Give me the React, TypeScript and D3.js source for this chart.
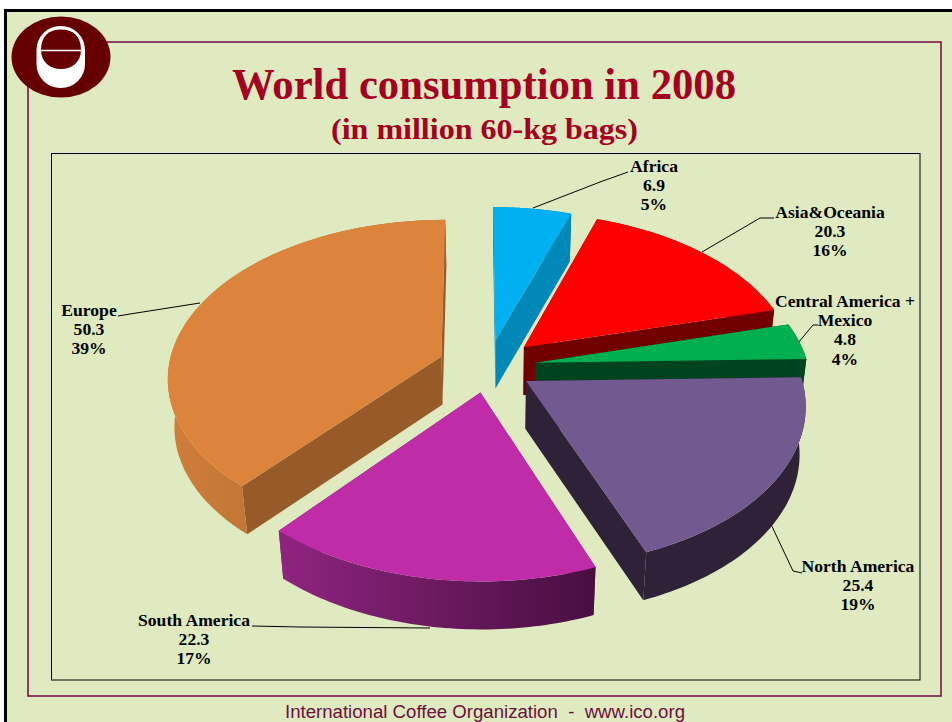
import React from "react";
import * as d3 from "d3";

const categories = ["Africa", "Asia&Oceania", "Central America + Mexico", "North America", "South America", "Europe"];
const values = [6.9, 20.3, 4.8, 25.4, 22.3, 50.3];
const percents = ["5%", "16%", "4%", "19%", "17%", "39%"];
const explodeBy = [47, 50, 48, 45, 45, 50];
const topColors = ["#00B0F0", "#FF0000", "#00B050", "#725990", "#C02CA8", "#DD843C"];
const sideColors = ["#0088B8", "#700000", "#00431F", "#2E2138", "#8A2079", "#975B2A"];
const wallFrom = ["#0088B8", "#700000", "#00431F", "#2E2138", "#8F2480", "#D07E3A"];
const wallTo = ["#0088B8", "#700000", "#00431F", "#2E2138", "#470F40", "#A0632A"];
const paintOrder = [0, 1, 2, 5, 3, 4];

const W = 952, H = 722;
const CX = 488, X0 = 475, CY = 366.5, R = 273, TILT = 0.575, DEPTH = 2100, THICK = 48;

function project(a: number, r: number, off: number, mid: number, z: number): [number, number] {
  const X = Math.sin(a) * r + Math.sin(mid) * off;
  const Y = -Math.cos(a) * r - Math.cos(mid) * off;
  const s = 1 / (1 - Y / DEPTH);
  const px = X0 + (CX - X0 + X) * s;
  return [px - (px - 500) * 0.02 * (z / THICK), CY + Y * TILT * s + z];
}

const line = d3.line();
const pieGen = d3.pie<number>().sort(null).startAngle(0).endAngle(2 * Math.PI);

type LabelSpec = { lines: string[]; x: number; y: number };
const labelLayout: LabelSpec[] = [
  { lines: ["Africa", "6.9", "5%"], x: 654, y: 172 },
  { lines: ["Asia&Oceania", "20.3", "16%"], x: 830, y: 218 },
  { lines: ["Central America +", "Mexico", "4.8", "4%"], x: 845, y: 307 },
  { lines: ["North America", "25.4", "19%"], x: 858, y: 572 },
  { lines: ["South America", "22.3", "17%"], x: 194, y: 626 },
  { lines: ["Europe", "50.3", "39%"], x: 89, y: 316 },
];
const leaders = [
  [[533, 208], [600, 182], [628, 172]],
  [[702, 252], [760, 218], [774, 218]],
  [[798, 343], [813, 325], [818, 325]],
  [[769, 520], [793, 571], [802, 573]],
  [[430, 628], [300, 627], [252, 626]],
  [[200, 303], [130, 314], [118, 316]],
] as [number, number][][];

function Slice({ d, i }: { d: d3.PieArcDatum<number>; i: number }) {
  const mid = (d.startAngle + d.endAngle) / 2;
  const off = explodeBy[i];
  const n = 60;
  const angs = d3.range(n + 1).map((k) => d.startAngle + ((d.endAngle - d.startAngle) * k) / n);
  const top = angs.map((a) => project(a, R, off, mid, 0));
  const bot = angs.map((a) => project(a, R, off, mid, THICK));
  const at = project(0, 0, off, mid, 0);
  const ab = project(0, 0, off, mid, THICK);
  const cutStart = [at, ab, bot[0], top[0]] as [number, number][];
  const cutEnd = [at, ab, bot[n], top[n]] as [number, number][];
  const wall = [...top, ...bot.slice().reverse()];
  const gid = `wall${i}`;
  const xs = top.map((p) => p[0]);
  return (
    <g>
      <defs>
        <linearGradient id={gid} gradientUnits="userSpaceOnUse" x1={d3.min(xs)} x2={d3.max(xs)} y1={0} y2={0}>
          <stop offset="0" stopColor={wallFrom[i]} />
          <stop offset="1" stopColor={wallTo[i]} />
        </linearGradient>
      </defs>
      <path d={line(cutStart)! + "Z"} fill={sideColors[i]} />
      <path d={line(cutEnd)! + "Z"} fill={sideColors[i]} />
      <path d={line(wall)! + "Z"} fill={`url(#${gid})`} />
      <path d={line([at, ...top])! + "Z"} fill={topColors[i]} />
    </g>
  );
}

export default function App() {
  const arcs = pieGen(values);
  return (
    <svg width={W} height={H} viewBox={`0 0 ${W} ${H}`} style={{ position: "absolute", left: 0, top: 0, display: "block" }}>
      <rect x={0} y={0} width={W} height={H} fill="#FFFFFF" />
      <rect x={5.5} y={10.5} width={W + 20} height={H + 20} fill="#DFEAC0" stroke="#000000" strokeWidth={3} />
      <rect x={28} y={42} width={913} height={654} fill="none" stroke="#7A1446" strokeWidth={1.6} />
      <ellipse cx={61} cy={57} rx={49.5} ry={40.5} fill="#660000" />
      <rect x={36.5} y={26} width={48.5} height={62} rx={24} ry={24} fill="#FFFFFF" />
      <path d="M41 50 C41 36 49 29.5 61 29.5 C73 29.5 81 36 81 50 C81 62 72 69 61 69 C50 69 41 62 41 50 Z" fill="#660000" />
      <line x1={41} x2={81} y1={50.5} y2={50.5} stroke="#FFFFFF" strokeWidth={1.6} />
      <text x={484} y={99} textAnchor="middle" fontFamily="Liberation Serif" fontWeight="bold" fontSize={44} fill="#A50021" textLength={504} lengthAdjust="spacingAndGlyphs">World consumption in 2008</text>
      <text x={484.5} y={139} textAnchor="middle" fontFamily="Liberation Serif" fontWeight="bold" fontSize={30} fill="#A50021" textLength={307} lengthAdjust="spacingAndGlyphs">(in million 60-kg bags)</text>
      <rect x={51.5} y={153.5} width={868.5} height={526.5} fill="none" stroke="#000000" strokeWidth={1} />
      {leaders.map((p, i) => <path key={i} d={line(p)!} fill="none" stroke="#000000" strokeWidth={1} />)}
      {paintOrder.map((i) => <Slice key={i} d={arcs[i]} i={i} />)}
      {labelLayout.map((l, i) => (
        <text key={categories[i]} textAnchor="middle" fontFamily="Liberation Serif" fontWeight="bold" fontSize={17.6} fill="#000000">
          {l.lines.map((t, j) => <tspan key={j} x={l.x} y={l.y + j * 19.2}>{t}</tspan>)}
        </text>
      ))}
      <text x={485} y={718} textAnchor="middle" fontFamily="Liberation Sans" fontSize={18} fill="#6B0F3E" textLength={400} lengthAdjust="spacingAndGlyphs" style={{ whiteSpace: "pre" }}>International Coffee Organization  -  www.ico.org</text>
    </svg>
  );
}
